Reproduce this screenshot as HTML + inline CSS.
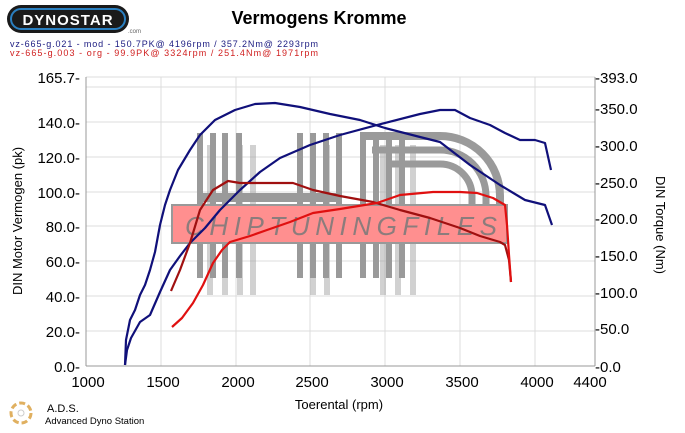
<!DOCTYPE html>
<html><head><style>
body{margin:0;background:#fff;width:685px;height:428px;overflow:hidden;font-family:"Liberation Sans",sans-serif}
</style></head><body>
<svg width="685" height="428" viewBox="0 0 685 428" xmlns="http://www.w3.org/2000/svg" font-family="Liberation Sans, sans-serif">
<rect x="7" y="5" width="122" height="28" rx="14" fill="#1a1a1a"/>
<rect x="11" y="9" width="114" height="20" rx="10" fill="none" stroke="#2a7fc0" stroke-width="2"/>
<text x="68" y="25" font-size="15" font-weight="bold" fill="#fff" text-anchor="middle" letter-spacing="1">DYNOSTAR</text>
<text x="128" y="33" font-size="6" fill="#666">.com</text>
<text x="319" y="24" font-size="18" font-weight="bold" text-anchor="middle" fill="#000">Vermogens Kromme</text>
<text x="10" y="47" font-size="9" fill="#1a1a80" textLength="308">vz-665-g.021 - mod  - 150.7PK@ 4196rpm / 357.2Nm@ 2293rpm</text>
<text x="10" y="56" font-size="9" fill="#d02020" textLength="308">vz-665-g.003 - org         - 99.9PK@ 3324rpm / 251.4Nm@ 1971rpm</text>
<g stroke="#dcdcdc" stroke-width="1">
<line x1="86" y1="77" x2="595" y2="77"/><line x1="86" y1="87" x2="595" y2="87"/>
<line x1="86" y1="122" x2="595" y2="122"/><line x1="86" y1="157" x2="595" y2="157"/>
<line x1="86" y1="192" x2="595" y2="192"/><line x1="86" y1="226" x2="595" y2="226"/>
<line x1="86" y1="261" x2="595" y2="261"/><line x1="86" y1="296" x2="595" y2="296"/>
<line x1="86" y1="331" x2="595" y2="331"/>
<line x1="161" y1="77" x2="161" y2="366"/><line x1="236" y1="77" x2="236" y2="366"/>
<line x1="310" y1="77" x2="310" y2="366"/><line x1="385" y1="77" x2="385" y2="366"/>
<line x1="460" y1="77" x2="460" y2="366"/><line x1="535" y1="77" x2="535" y2="366"/>
</g>
<g stroke="#999" stroke-width="1"><line x1="86" y1="366" x2="595" y2="366"/><line x1="86" y1="77" x2="86" y2="366"/><line x1="595" y1="77" x2="595" y2="366"/></g>
<g fill="#9a9a9a">
<g opacity="0.45"><rect x="207" y="145" width="6" height="150"/><rect x="222" y="145" width="6" height="150"/><rect x="237" y="145" width="6" height="150"/><rect x="250" y="145" width="6" height="150"/><rect x="310" y="145" width="6" height="150"/><rect x="324" y="145" width="6" height="150"/><rect x="380" y="145" width="6" height="150"/><rect x="395" y="145" width="6" height="150"/><rect x="410" y="145" width="6" height="150"/></g>
<rect x="197" y="133" width="6" height="145"/><rect x="210" y="133" width="6" height="145"/><rect x="222" y="133" width="6" height="145"/><rect x="236" y="133" width="6" height="145"/>
<rect x="197" y="193" width="145" height="9"/>
<rect x="297" y="133" width="6" height="145"/><rect x="310" y="133" width="6" height="145"/><rect x="323" y="133" width="6" height="145"/><rect x="336" y="133" width="6" height="145"/>
<rect x="360" y="133" width="6" height="145"/><rect x="373" y="133" width="6" height="145"/><rect x="386" y="133" width="6" height="145"/><rect x="399" y="133" width="6" height="145"/>
</g>
<path d="M360 136 H440 A60 60 0 0 1 500 196 V205" fill="none" stroke="#9a9a9a" stroke-width="8"/>
<path d="M372 150 H440 A46 46 0 0 1 486 196 V205" fill="none" stroke="#9a9a9a" stroke-width="7"/>
<path d="M386 164 H440 A32 32 0 0 1 472 196 V205" fill="none" stroke="#9a9a9a" stroke-width="7"/>
<rect x="172" y="205" width="335" height="38" fill="#ff8f8f" stroke="#999" stroke-width="2"/>
<text x="185" y="235" font-size="26" font-style="italic" fill="#8c7c7c" textLength="312" lengthAdjust="spacing">CHIPTUNINGFILES</text>
<g fill="none" stroke-width="2.2" stroke-linejoin="round">
<polyline stroke="#10107a" points="125,365 126,340 130,320 135,310 140,295 145,285 150,270 155,252 160,225 165,205 170,190 178,170 190,150 200,135 215,120 235,110 255,104 275,103 300,107 330,114 360,120 385,128 420,137 440,142 470,165 500,185 525,200 545,205 552,225"/>
<polyline stroke="#10107a" points="125,365 127,350 131,338 140,322 150,315 160,292 170,270 180,256 190,243 205,228 220,210 240,190 260,172 280,158 310,145 340,135 377,125 420,114 440,110 455,110 470,118 490,125 505,133 520,140 535,140 545,143 551,170"/>
<polyline stroke="#a01010" points="171,291 180,270 190,243 200,210 213,190 228,181 240,183 293,183 313,190 340,196 373,202 400,210 430,218 460,228 480,236 500,242 505,245 509,260 511,282"/>
<polyline stroke="#e01010" points="172,327 182,318 193,303 203,285 213,263 222,250 230,242 250,236 267,230 290,222 313,213 340,209 377,203 400,195 433,192 460,192 477,193 493,198 505,205 507,225 509,255 511,282"/>
</g>
<g font-size="15" fill="#000" text-anchor="end">
<text x="80" y="83">165.7-</text><text x="80" y="128">140.0-</text><text x="80" y="163">120.0-</text><text x="80" y="198">100.0-</text><text x="80" y="232">80.0-</text><text x="80" y="267">60.0-</text><text x="80" y="302">40.0-</text><text x="80" y="337">20.0-</text><text x="80" y="372">0.0-</text>
</g>
<g font-size="15" fill="#000">
<text x="595" y="83">-393.0</text><text x="595" y="114">-350.0</text><text x="595" y="151">-300.0</text><text x="595" y="188">-250.0</text><text x="595" y="224">-200.0</text><text x="595" y="261">-150.0</text><text x="595" y="298">-100.0</text><text x="595" y="334">-50.0</text><text x="595" y="372">-0.0</text>
</g>
<g font-size="15" fill="#000" text-anchor="middle">
<text x="88" y="387">1000</text><text x="163" y="387">1500</text><text x="238" y="387">2000</text><text x="312" y="387">2500</text><text x="387" y="387">3000</text><text x="462" y="387">3500</text><text x="537" y="387">4000</text><text x="590" y="387">4400</text>
<text x="339" y="409" font-size="13">Toerental (rpm)</text>
</g>
<text transform="translate(22,221) rotate(-90)" font-size="13" text-anchor="middle">DIN Motor Vermogen (pk)</text>
<text transform="translate(656,225) rotate(90)" font-size="13" text-anchor="middle">DIN Torque (Nm)</text>
<circle cx="21" cy="413" r="10" fill="none" stroke="#e0b060" stroke-width="3" stroke-dasharray="6 3"/>
<circle cx="21" cy="413" r="3" fill="none" stroke="#ccc"/>
<text x="47" y="412" font-size="11">A.D.S.</text>
<text x="45" y="424" font-size="9.5">Advanced Dyno Station</text>
</svg>
</body></html>
